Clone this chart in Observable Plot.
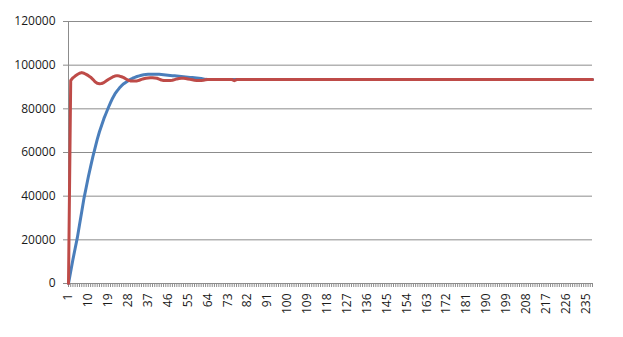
<!DOCTYPE html>
<html>
<head>
<meta charset="utf-8">
<script src="https://cdn.jsdelivr.net/npm/d3@7"></script>
<script src="https://cdn.jsdelivr.net/npm/@observablehq/plot@0.6"></script>
<style>
  html, body { margin: 0; padding: 0; background: #ffffff; }
  #chart { width: 623px; height: 337px; }
</style>
</head>
<body>
<div id="chart"></div>
<script>
// Series 1 (blue): rises from 0 and settles at ~93400
const blueSeries = [
  0, 5500, 11000, 16000, 21000, 27000, 33000, 39000, 44000, 49000,
  53500, 58000, 62000, 66000, 69500, 72500, 75500, 78000, 80500, 82800,
  85000, 86800, 88200, 89500, 90600, 91500, 92200, 92900, 93500, 94000,
  94400, 94800, 95100, 95400, 95600, 95700, 95800, 95850, 95850, 95850,
  95800, 95800, 95700, 95600, 95500, 95400, 95300, 95200, 95100, 95000,
  94900, 94800, 94700, 94600, 94500, 94400, 94300, 94200, 94100, 94000,
  93900, 93700, 93500, 93400, 93400, 93400, 93400, 93400, 93400, 93400,
  93400, 93400, 93400, 93400, 93400, 93400, 93400, 93400, 93400, 93400,
  93400, 93400, 93400, 93400, 93400, 93400, 93400, 93400, 93400, 93400,
  93400, 93400, 93400, 93400, 93400, 93400, 93400, 93400, 93400, 93400,
  93400, 93400, 93400, 93400, 93400, 93400, 93400, 93400, 93400, 93400,
  93400, 93400, 93400, 93400, 93400, 93400, 93400, 93400, 93400, 93400,
  93400, 93400, 93400, 93400, 93400, 93400, 93400, 93400, 93400, 93400,
  93400, 93400, 93400, 93400, 93400, 93400, 93400, 93400, 93400, 93400,
  93400, 93400, 93400, 93400, 93400, 93400, 93400, 93400, 93400, 93400,
  93400, 93400, 93400, 93400, 93400, 93400, 93400, 93400, 93400, 93400,
  93400, 93400, 93400, 93400, 93400, 93400, 93400, 93400, 93400, 93400,
  93400, 93400, 93400, 93400, 93400, 93400, 93400, 93400, 93400, 93400,
  93400, 93400, 93400, 93400, 93400, 93400, 93400, 93400, 93400, 93400,
  93400, 93400, 93400, 93400, 93400, 93400, 93400, 93400, 93400, 93400,
  93400, 93400, 93400, 93400, 93400, 93400, 93400, 93400, 93400, 93400,
  93400, 93400, 93400, 93400, 93400, 93400, 93400, 93400, 93400, 93400,
  93400, 93400, 93400, 93400, 93400, 93400, 93400, 93400, 93400, 93400,
  93400, 93400, 93400, 93400, 93400, 93400, 93400, 93400
];

// Series 2 (red): jumps to ~93000, oscillates, settles at ~93400
const redSeries = [
  0, 93000, 94200, 95000, 95700, 96300, 96600, 96300, 95800, 95200,
  94500, 93500, 92400, 91700, 91500, 91600, 92000, 92700, 93400, 94000,
  94600, 95000, 95200, 95000, 94700, 94300, 93700, 93100, 92800, 92700,
  92700, 92800, 93100, 93500, 93800, 94000, 94100, 94200, 94200, 94100,
  94000, 93600, 93200, 93000, 93000, 93000, 93000, 93100, 93400, 93700,
  93900, 94000, 94000, 93900, 93700, 93500, 93300, 93100, 93000, 93000,
  93000, 93100, 93300, 93400, 93400, 93400, 93400, 93400, 93400, 93400,
  93400, 93400, 93400, 93400, 93400, 92900, 93400, 93400, 93400, 93400,
  93400, 93400, 93400, 93400, 93400, 93400, 93400, 93400, 93400, 93400,
  93400, 93400, 93400, 93400, 93400, 93400, 93400, 93400, 93400, 93400,
  93400, 93400, 93400, 93400, 93400, 93400, 93400, 93400, 93400, 93400,
  93400, 93400, 93400, 93400, 93400, 93400, 93400, 93400, 93400, 93400,
  93400, 93400, 93400, 93400, 93400, 93400, 93400, 93400, 93400, 93400,
  93400, 93400, 93400, 93400, 93400, 93400, 93400, 93400, 93400, 93400,
  93400, 93400, 93400, 93400, 93400, 93400, 93400, 93400, 93400, 93400,
  93400, 93400, 93400, 93400, 93400, 93400, 93400, 93400, 93400, 93400,
  93400, 93400, 93400, 93400, 93400, 93400, 93400, 93400, 93400, 93400,
  93400, 93400, 93400, 93400, 93400, 93400, 93400, 93400, 93400, 93400,
  93400, 93400, 93400, 93400, 93400, 93400, 93400, 93400, 93400, 93400,
  93400, 93400, 93400, 93400, 93400, 93400, 93400, 93400, 93400, 93400,
  93400, 93400, 93400, 93400, 93400, 93400, 93400, 93400, 93400, 93400,
  93400, 93400, 93400, 93400, 93400, 93400, 93400, 93400, 93400, 93400,
  93400, 93400, 93400, 93400, 93400, 93400, 93400, 93400, 93400, 93400,
  93400, 93400, 93400, 93400, 93400, 93400, 93400, 93400
];

// Category axis: 1..N (one per data point)
const categories = blueSeries.map((_, i) => i + 1);

// Tick labels shown on the axes
const xTickLabels = [1, 10, 19, 28, 37, 46, 55, 64, 73, 82, 91, 100, 109, 118,
  127, 136, 145, 154, 163, 172, 181, 190, 199, 208, 217, 226, 235];
const yTickLabels = [0, 20000, 40000, 60000, 80000, 100000, 120000];

const seriesNames = ["Series1", "Series2"];
const seriesColors = ["#4a7ebb", "#be4b48"];

const rows = [];
categories.forEach((c, i) => rows.push({cat: c, value: blueSeries[i], series: seriesNames[0]}));
categories.forEach((c, i) => rows.push({cat: c, value: redSeries[i], series: seriesNames[1]}));

const gridColor = "#8c8c8c";

const chart = Plot.plot({
  width: 623,
  height: 337,
  marginLeft: 68,
  marginRight: 31,
  marginTop: 21,
  marginBottom: 54,
  style: {
    fontFamily: "'Open Sans', 'Liberation Sans', Arial, sans-serif",
    fontSize: "12px",
    color: "#1a1a1a",
    background: "#ffffff",
    overflow: "visible"
  },
  x: {type: "linear", domain: [1, categories.length], axis: null},
  y: {domain: [0, 120000], axis: null},
  color: {domain: seriesNames, range: seriesColors},
  marks: [
    Plot.gridY(yTickLabels, {stroke: gridColor, strokeOpacity: 1, strokeWidth: 1}),
    Plot.axisY(yTickLabels, {
      anchor: "left", tickSize: 5, tickPadding: 8, stroke: gridColor, strokeOpacity: 1,
      fill: "#1a1a1a", tickFormat: d => String(d), label: null
    }),
    Plot.ruleX([1], {stroke: gridColor, strokeWidth: 1}),
    Plot.axisX(categories, {
      anchor: "bottom", tickSize: 4, stroke: gridColor, strokeOpacity: 1,
      fill: null, label: null
    }),
    Plot.axisX(xTickLabels, {
      anchor: "bottom", tickSize: 0, tickPadding: 10, tickRotate: -90,
      fill: "#1a1a1a", tickFormat: d => String(d), label: null
    }),
    Plot.ruleY([0], {stroke: gridColor, strokeWidth: 1}),
    Plot.line(rows, {
      x: "cat", y: "value", z: "series", stroke: "series",
      strokeWidth: 3, strokeLinejoin: "round", strokeLinecap: "round"
    })
  ]
});

document.getElementById("chart").appendChild(chart);
</script>
</body>
</html>
